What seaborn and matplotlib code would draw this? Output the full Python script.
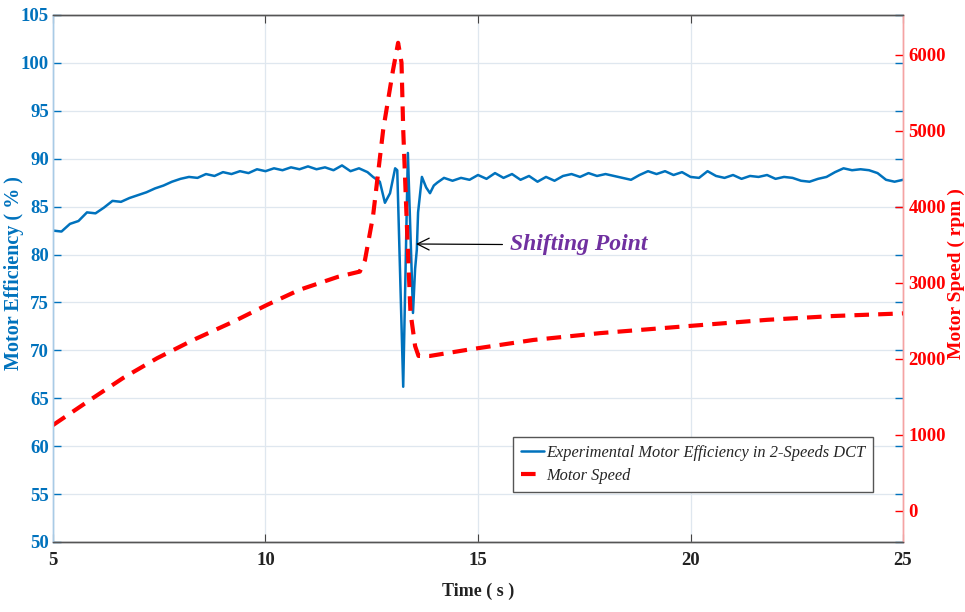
import matplotlib
matplotlib.use("Agg")
import matplotlib.pyplot as plt
import pandas as pd
import seaborn as sns

# efficiency trace (%)
eff_time = [
    5.0, 5.2, 5.4, 5.6, 5.8, 6.0, 6.2, 6.4, 6.6, 6.8,
    7.0, 7.2, 7.4, 7.6, 7.8, 8.0, 8.2, 8.4, 8.6, 8.8,
    9.0, 9.2, 9.4, 9.6, 9.8, 10.0, 10.2, 10.4, 10.6, 10.8,
    11.0, 11.2, 11.4, 11.6, 11.8, 12.0, 12.2, 12.4,
    12.53, 12.69, 12.81, 12.93, 13.05, 13.1, 13.24, 13.35, 13.47, 13.52,
    13.56, 13.59, 13.68, 13.78, 13.87, 13.96, 14.04,
    14.2, 14.4, 14.6, 14.8, 15.0, 15.2, 15.4, 15.6, 15.8, 16.0,
    16.2, 16.4, 16.6, 16.8, 17.0, 17.2, 17.4, 17.6, 17.8, 18.0,
    18.2, 18.4, 18.6, 18.8, 19.0, 19.2, 19.4, 19.6, 19.8, 20.0,
    20.2, 20.4, 20.6, 20.8, 21.0, 21.2, 21.4, 21.6, 21.8, 22.0,
    22.2, 22.4, 22.6, 22.8, 23.0, 23.2, 23.4, 23.6, 23.8, 24.0,
    24.2, 24.4, 24.6, 24.8, 25.0,
]
eff_values = [
    82.5, 82.4, 83.2, 83.5, 84.4, 84.3, 84.9, 85.6, 85.5, 85.9,
    86.2, 86.5, 86.9, 87.2, 87.6, 87.9, 88.1, 88.0, 88.4, 88.2,
    88.6, 88.4, 88.7, 88.5, 88.9, 88.7, 89.0, 88.8, 89.1, 88.9,
    89.2, 88.9, 89.1, 88.8, 89.3, 88.7, 89.0, 88.6,
    88.1, 87.6, 85.4, 86.4, 89.0, 88.8, 66.2, 90.6, 73.9, 78.5,
    80.5, 84.4, 88.1, 87.0, 86.4, 87.2, 87.5,
    88.0, 87.7, 88.0, 87.8, 88.3, 87.9, 88.5, 88.0, 88.4, 87.8,
    88.2, 87.6, 88.1, 87.7, 88.2, 88.4, 88.1, 88.5, 88.2, 88.4,
    88.2, 88.0, 87.8, 88.3, 88.7, 88.4, 88.7, 88.3, 88.6, 88.1,
    88.0, 88.7, 88.2, 88.0, 88.3, 87.9, 88.2, 88.1, 88.3, 87.9,
    88.1, 88.0, 87.7, 87.6, 87.9, 88.1, 88.6, 89.0, 88.8, 88.9,
    88.8, 88.5, 87.8, 87.6, 87.8,
]

# motor speed (rpm)
speed_time = [
    5.0, 5.87, 6.65, 7.45, 8.3, 9.24, 10.03, 10.8, 11.7, 12.22,
    12.34, 12.53, 12.77, 13.0, 13.12, 13.2, 13.24, 13.33, 13.41, 13.52,
    13.6, 13.87, 14.74, 16.3, 17.87, 19.99, 21.8, 23.35, 25.0,
]
speed_values = [
    1130, 1460, 1750, 2010, 2250, 2490, 2710, 2910, 3080, 3150,
    3300, 3880, 5020, 5800, 6160, 5900, 5020, 3710, 2620, 2170,
    2040, 2040, 2120, 2250, 2340, 2435, 2515, 2565, 2600,
]

eff_ticks = [50, 55, 60, 65, 70, 75, 80, 85, 90, 95, 100, 105]
speed_ticks = [0, 1000, 2000, 3000, 4000, 5000, 6000]
time_ticks = [5, 10, 15, 20, 25]

BLUE = "#0072BD"
RED = "#FF0000"

sns.set_style("white")
plt.rcParams["font.family"] = ["Liberation Serif", "DejaVu Serif"]

eff_df = pd.DataFrame({"time": eff_time, "eff": eff_values})
speed_df = pd.DataFrame({"time": speed_time, "speed": speed_values})

fig = plt.figure(figsize=(9.65, 6.12), dpi=100)
ax = fig.add_axes([0.0549, 0.1144, 0.8809, 0.8611])
ax2 = ax.twinx()

sns.lineplot(data=eff_df, x="time", y="eff", ax=ax, color=BLUE, linewidth=1.8,
             estimator=None, sort=False, legend=False)
sns.lineplot(data=speed_df, x="time", y="speed", ax=ax2, color=RED, linewidth=3.0,
             estimator=None, sort=False, legend=False)
ax2.lines[0].set_dashes((3.5, 2.2))

ax.set_xlim(5, 25)
ax.set_ylim(50, 105)
ax2.set_ylim(-408, 6526)
ax.set_xticks(time_ticks)
ax.set_yticks(eff_ticks)
ax2.set_yticks(speed_ticks)

ax.grid(True, color="#dfe7ef", linewidth=0.9)
ax.set_axisbelow(True)

tick_font = {"family": "Liberation Serif", "weight": "bold", "size": 13.5}
ax.set_xticklabels([str(t) for t in time_ticks], fontdict=tick_font, color="#222222")
ax.set_yticklabels([str(t) for t in eff_ticks], fontdict=tick_font, color=BLUE)
ax2.set_yticklabels([str(t) for t in speed_ticks], fontdict=tick_font, color=RED)

ax.tick_params(axis="y", direction="in", left=True, right=True, color=BLUE,
               length=6, width=1, pad=3)
ax.tick_params(axis="x", direction="in", bottom=True, top=True, color="#444444",
               length=6, width=0.8, pad=7)
ax2.tick_params(axis="y", direction="in", left=False, right=True, color=RED,
                length=6, width=1, pad=4)

ax.set_xlabel("Time ( s )", fontsize=13, fontweight="bold", color="#222222")
ax.xaxis.set_label_coords(0.5, -0.078)
ax.set_ylabel("Motor Efficiency ( % )", fontsize=14.5, fontweight="bold", color=BLUE)
ax.yaxis.set_label_coords(-0.034, 0.51)
ax2.set_ylabel("Motor Speed ( rpm )", fontsize=14, fontweight="bold", color=RED)
ax2.yaxis.set_label_coords(1.053, 0.51)

for a in (ax, ax2):
    a.spines["top"].set_color("#555555")
    a.spines["bottom"].set_color("#555555")
    a.spines["left"].set_color("#a9cbe6")
    a.spines["right"].set_color("#f5a3a3")
    for s in a.spines.values():
        s.set_linewidth(1)

ax2.annotate("Shifting Point", xy=(13.54, 81.1), xycoords=ax.transData,
             xytext=(15.75, 81.0), textcoords=ax.transData,
             ha="left", va="center", fontsize=17, fontweight="bold", fontstyle="italic",
             color="#7030A0",
             arrowprops=dict(arrowstyle="->,head_length=0.5,head_width=0.25",
                             color="black", lw=0.9, shrinkA=3, shrinkB=0))

handles = ax.get_lines()[:1] + ax2.get_lines()[:1]
leg = ax2.legend(handles=handles,
                 labels=["Experimental Motor Efficiency in 2-Speeds DCT", "Motor Speed"],
                 loc="upper right", bbox_to_anchor=(0.965, 0.2), borderaxespad=0,
                 prop={"family": "Liberation Serif", "style": "italic", "size": 11.8},
                 handlelength=1.4, handletextpad=0.1, borderpad=0.5, labelspacing=0.45,
                 fancybox=False, framealpha=1, edgecolor="#555555")
leg.get_frame().set_linewidth(1)

fig.savefig("out.png", dpi=100)
